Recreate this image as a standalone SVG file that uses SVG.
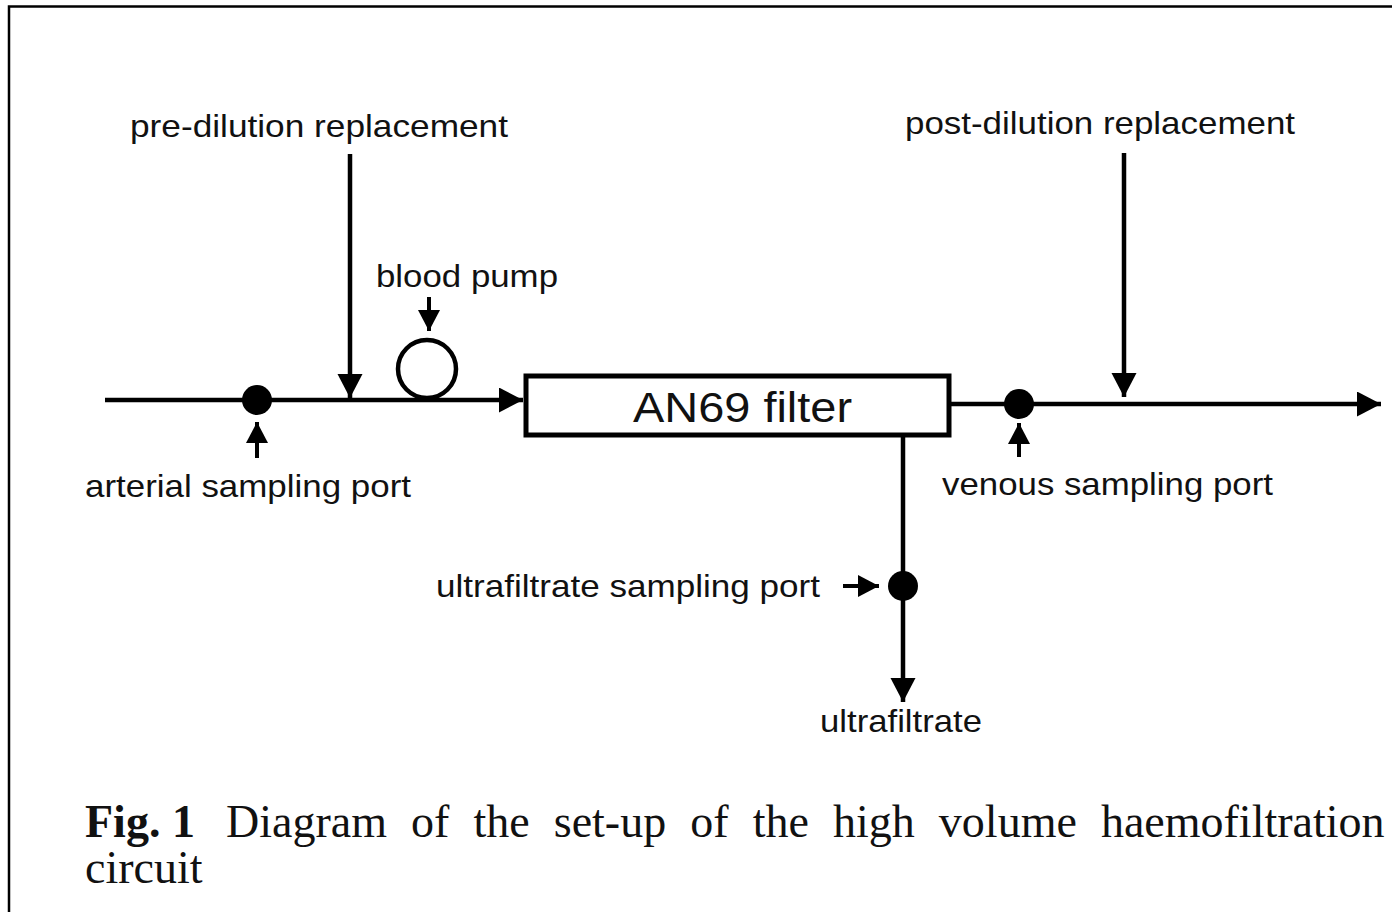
<svg xmlns="http://www.w3.org/2000/svg" width="1392" height="912" viewBox="0 0 1392 912">
  <style>
    .lbl { font-family: "Liberation Sans", Arial, sans-serif; font-size: 32px; fill: #111; }
    .big { font-family: "Liberation Sans", Arial, sans-serif; font-size: 42px; fill: #111; }
    .cap { font-family: "Liberation Serif", "Times New Roman", serif; font-size: 46px; fill: #111; }
    .ln { stroke: #000; stroke-width: 4.5; fill: none; }
    .thin { stroke: #000; stroke-width: 4; fill: none; }
    .dot { fill: #000; }
  </style>
  <defs>
    <marker id="big" markerUnits="userSpaceOnUse" markerWidth="26" markerHeight="26" refX="24" refY="12.5" orient="auto">
      <path d="M0,0 L24,12.5 L0,25 z" fill="#000"/>
    </marker>
    <marker id="small" markerUnits="userSpaceOnUse" markerWidth="22" markerHeight="22" refX="21" refY="11" orient="auto">
      <path d="M0,0 L21,11 L0,22 z" fill="#000"/>
    </marker>
  </defs>
  <rect width="1392" height="912" fill="#fff"/>
  <path d="M9,912 V6.5 H1392" stroke="#000" stroke-width="2.5" fill="none"/>

  <g id="connectors">
    <line class="ln" x1="105" y1="400" x2="523" y2="400" marker-end="url(#big)"/>
    <line class="ln" x1="350" y1="154" x2="350" y2="398" marker-end="url(#big)"/>
    <line class="ln" x1="949" y1="404" x2="1381" y2="404" marker-end="url(#big)"/>
    <line class="ln" x1="1124" y1="153" x2="1124" y2="397" marker-end="url(#big)"/>
    <line class="ln" x1="903" y1="435" x2="903" y2="702" marker-end="url(#big)"/>
    <line class="thin" x1="429" y1="297" x2="429" y2="331" marker-end="url(#small)"/>
    <line class="thin" x1="257" y1="458" x2="257" y2="422" marker-end="url(#small)"/>
    <line class="thin" x1="1019" y1="457" x2="1019" y2="423" marker-end="url(#small)"/>
    <line class="thin" x1="843" y1="586" x2="879" y2="586" marker-end="url(#small)"/>
  </g>

  <g id="pre-dilution">
    <text class="lbl" x="130" y="137" textLength="378" lengthAdjust="spacingAndGlyphs">pre-dilution replacement</text>
  </g>
  <g id="post-dilution">
    <text class="lbl" x="905" y="134" textLength="390" lengthAdjust="spacingAndGlyphs">post-dilution replacement</text>
  </g>
  <g id="blood-pump">
    <text class="lbl" x="376" y="287" textLength="182" lengthAdjust="spacingAndGlyphs">blood pump</text>
    <circle cx="427" cy="369" r="29" fill="none" stroke="#000" stroke-width="4.5"/>
  </g>
  <g id="arterial-port">
    <circle class="dot" cx="257" cy="400" r="15"/>
    <text class="lbl" x="85" y="497" textLength="326" lengthAdjust="spacingAndGlyphs">arterial sampling port</text>
  </g>
  <g id="filter">
    <rect x="526" y="376" width="423" height="59" fill="#fff" stroke="#000" stroke-width="5"/>
    <text class="big" x="633" y="422" textLength="219" lengthAdjust="spacingAndGlyphs">AN69 filter</text>
  </g>
  <g id="venous-port">
    <circle class="dot" cx="1019" cy="404" r="15"/>
    <text class="lbl" x="942" y="495" textLength="331" lengthAdjust="spacingAndGlyphs">venous sampling port</text>
  </g>
  <g id="ultrafiltrate-port">
    <circle class="dot" cx="903" cy="586" r="15"/>
    <text class="lbl" x="436" y="597" textLength="384" lengthAdjust="spacingAndGlyphs">ultrafiltrate sampling port</text>
  </g>
  <g id="ultrafiltrate">
    <text class="lbl" x="820" y="732" textLength="162" lengthAdjust="spacingAndGlyphs">ultrafiltrate</text>
  </g>

  <g id="caption">
    <text class="cap" x="85" y="837" font-weight="bold">Fig. 1</text>
    <text class="cap" x="226" y="837" word-spacing="12.6">Diagram of the set-up of the high volume haemofiltration</text>
    <text class="cap" x="85" y="883">circuit</text>
  </g>
</svg>
